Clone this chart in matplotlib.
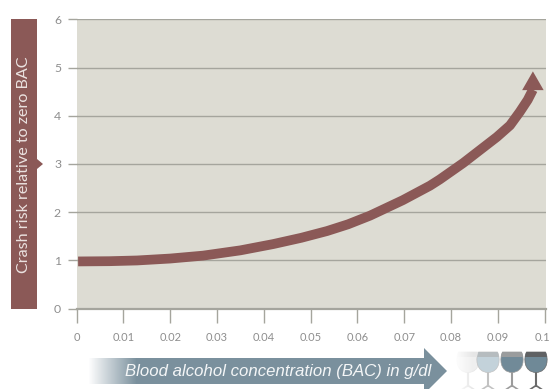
import numpy as np
import matplotlib
matplotlib.use('Agg')
import matplotlib.pyplot as plt
from matplotlib.path import Path
from matplotlib.patches import PathPatch, Polygon, Rectangle
from matplotlib.transforms import ScaledTranslation

# crash risk curve
bac = [0.0003, 0.007, 0.0129, 0.02, 0.027, 0.035, 0.042, 0.048, 0.0535, 0.058, 0.0627, 0.0697,
       0.0755, 0.0776, 0.0826, 0.0898, 0.0926, 0.0947, 0.0964, 0.0975]
risk = [0.98, 0.985, 1.0, 1.04, 1.10, 1.21, 1.34, 1.47, 1.61, 1.75, 1.93, 2.25,
        2.55, 2.68, 3.02, 3.56, 3.8, 4.08, 4.33, 4.54]
tip = (0.0975, 4.92)

x_ticks = [0, 0.01, 0.02, 0.03, 0.04, 0.05, 0.06, 0.07, 0.08, 0.09, 0.1]
x_labels = ['0', '0.01', '0.02', '0.03', '0.04', '0.05', '0.06', '0.07', '0.08', '0.09', '0.1']
y_ticks = [0, 1, 2, 3, 4, 5, 6]

y_title = 'Crash risk relative to zero BAC'
x_title = 'Blood alcohol concentration (BAC) in g/dl'

# bowl colour, top band colour, stem colour for each glass
glass_centers = [468, 488, 512, 536]
glass_bowls = ['#efefef', '#c3d2da', '#718a98', '#6f8997']
glass_tops = ['#e6e6e6', '#b6bcbf', '#9a9c9d', '#5f6163']
glass_stems = ['#e6e6e6', '#c2c2c2', '#9c9c9c', '#6a6a6a']

RED = '#8b5957'
SLATE = '#7a909d'
GRID = '#a5a59d'
W, H = 551, 389

plt.rcParams['font.family'] = ['Lato', 'DejaVu Sans']

fig = plt.figure(figsize=(W / 100, H / 100), dpi=100)
ax = fig.add_axes([76.7 / W, 1 - 308.7 / H, (546 - 76.7) / W, (308.7 - 19.3) / H])
ax.set_facecolor('#dddcd3')
ax.set_xlim(0, 0.1003)
ax.set_ylim(0, 6)
for name, spine in ax.spines.items():
    spine.set_visible(name == 'bottom')
ax.spines['bottom'].set_color(GRID)
ax.spines['bottom'].set_linewidth(1.6)

ax.set_xticks(x_ticks, x_labels)
ax.set_yticks(y_ticks)
ax.tick_params(axis='x', length=10, width=1, color=GRID, labelcolor='#8e8e8e', labelsize=8, pad=6.5)
ax.tick_params(axis='y', length=6.3, width=1, color=GRID, labelcolor='#8e8e8e', labelsize=8.8, pad=5)
ax.grid(axis='y', color=GRID, lw=1)
ax.set_axisbelow(True)

# nudge the last x label so it stays on the page
last = ax.get_xticklabels()[-1]
last.set_transform(last.get_transform() + ScaledTranslation(-0.02, 0, fig.dpi_scale_trans))

ax.plot(bac, risk, color=RED, lw=7, solid_capstyle='butt', solid_joinstyle='round', zorder=3)
ax.annotate('', xy=tip, xytext=(bac[-1], risk[-1]),
            arrowprops=dict(facecolor=RED, edgecolor='none', width=0.1, headwidth=15.5,
                            headlength=13.5, shrink=0), zorder=4)

# overlay in pixel units for the side labels and the glasses
over = fig.add_axes([0, 0, 1, 1], facecolor='none')
over.axis('off')

over.add_patch(Rectangle((11, 19), 26, 290, color=RED, lw=0))
over.add_patch(Polygon([(37, 159), (43, 164), (37, 169)], color=RED, lw=0))
over.text(24.5, 164.5, y_title, rotation=90, ha='center', va='center', color='#ebe2e0', fontsize=11.6)

# x axis arrow with a fade at the tail
arrow = Polygon([(88, 358), (424, 358), (424, 348), (447, 371), (424, 394), (424, 384), (88, 384)],
                closed=True, facecolor='none', edgecolor='none')
over.add_patch(arrow)
fade = np.ones((2, 360, 4))
fade[:, :, :3] = matplotlib.colors.to_rgb(SLATE)
fade[:, :, 3] = np.clip(np.arange(360) / 48, 0, 1)
grad = over.imshow(fade, extent=(88, 448, 394, 348), aspect='auto', zorder=2)
grad.set_clip_path(arrow)
over.text(278, 371.5, x_title, ha='center', va='center', color='#f4f6f7', fontsize=12.1,
          style='italic', family=['Liberation Sans'], zorder=3)


def bowl_path(cx):
    verts = [(cx - 9.5, 352), (cx - 12.5, 358), (cx - 12.5, 372), (cx, 372.5),
             (cx + 12.5, 372), (cx + 12.5, 358), (cx + 9.5, 352), (cx - 9.5, 352)]
    codes = [Path.MOVETO, Path.CURVE4, Path.CURVE4, Path.CURVE4,
             Path.CURVE4, Path.CURVE4, Path.CURVE4, Path.CLOSEPOLY]
    return Path(verts, codes)


for cx, bowl, top, stem in zip(glass_centers, glass_bowls, glass_tops, glass_stems):
    over.plot([cx, cx], [372, 386], color=stem, lw=1.5, zorder=2)
    over.plot([cx - 6, cx, cx + 6], [389.5, 385.5, 389.5], color=stem, lw=1.2, zorder=2)
    patch = PathPatch(bowl_path(cx), facecolor=bowl, edgecolor=stem, lw=0.5, zorder=3)
    over.add_patch(patch)
    band = Rectangle((cx - 13, 351), 26, 6, facecolor=top, edgecolor='none', zorder=4)
    over.add_patch(band)
    band.set_clip_path(patch)

# palest glass dissolves into the page on its left side
white = np.ones((2, 20, 4))
white[:, :, 3] = np.clip(1 - np.arange(20) / 19, 0, 1)
over.imshow(white, extent=(454, 474, 391, 350), aspect='auto', zorder=5)

over.set_xlim(0, W)
over.set_ylim(H, 0)

fig.savefig('out.png', dpi=100)
